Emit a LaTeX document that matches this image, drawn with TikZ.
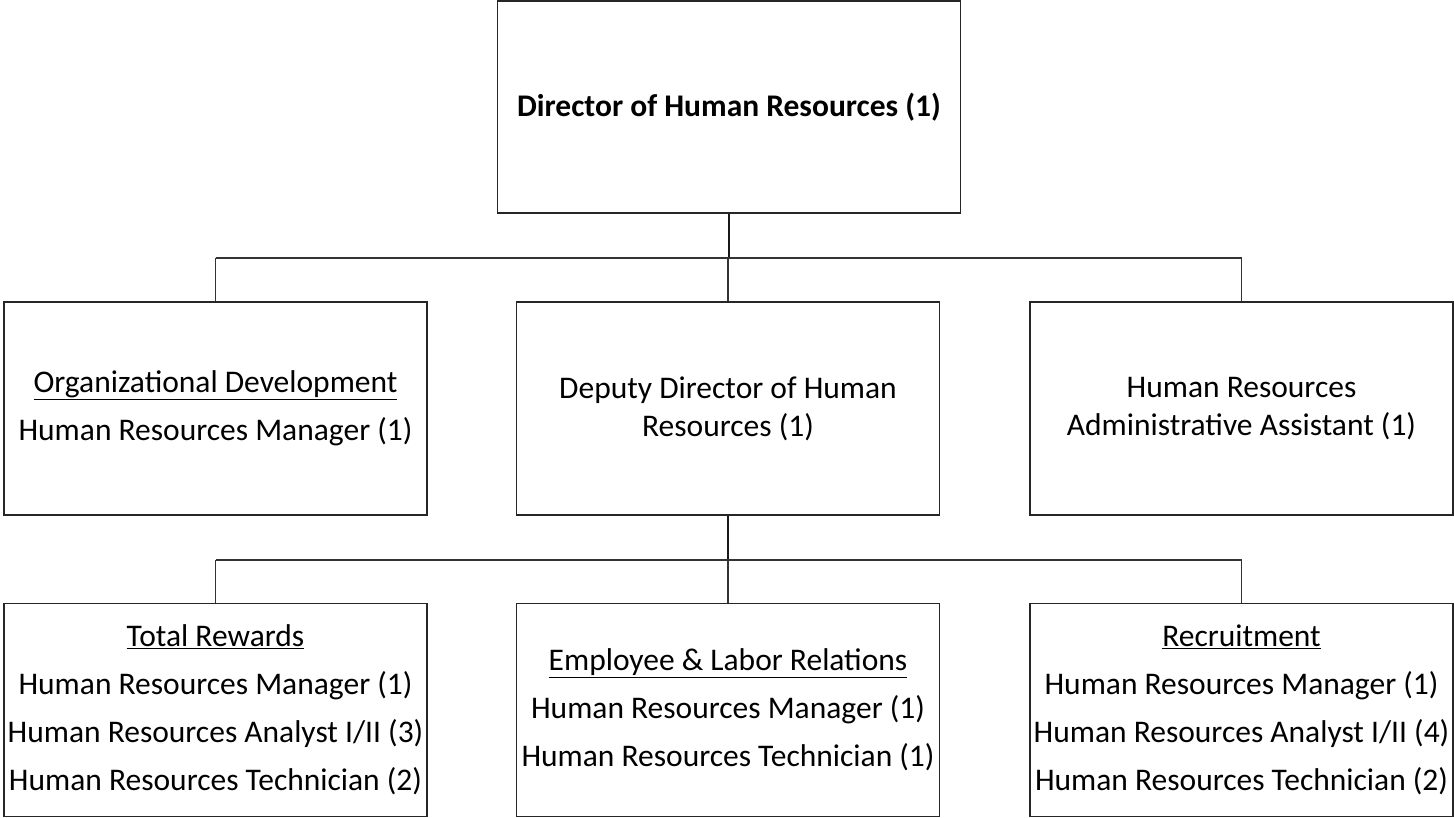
\documentclass[tikz,border=0pt]{standalone}
\usepackage{fontspec}
\setmainfont{Carlito}
\begin{document}
\begin{tikzpicture}[x=1pt,y=-1pt,
  box/.style={draw=black!85, line width=1.4pt, minimum width=423pt, minimum height=213pt, inner sep=0pt, align=center, font=\fontsize{31.5}{38}\selectfont},
  conn/.style={draw=black!80, line width=1.2pt},
  trunk/.style={draw=black!90, line width=2.2pt}]
\useasboundingbox (0,0) rectangle (1454,818);
\node[box, minimum width=463pt, minimum height=212pt] (top) at (729,107) {\textbf{Director of Human Resources (1)}};
\node[box] (od) at (215.5,408.5) {\underline{Organizational Development}\\[10pt]Human Resources Manager (1)};
\node[box] (dep) at (728,408.5) {Deputy Director of Human\\Resources (1)};
\node[box] (adm) at (1241.5,408.5) {Human Resources\\Administrative Assistant (1)};
\node[box] (tr) at (215.5,710) {\underline{Total Rewards}\\[10pt]Human Resources Manager (1)\\[10pt]Human Resources Analyst I/II (3)\\[10pt]Human Resources Technician (2)};
\node[box] (elr) at (728,710) {\underline{Employee \& Labor Relations}\\[10pt]Human Resources Manager (1)\\[10pt]Human Resources Technician (1)};
\node[box] (rec) at (1241.5,710) {\underline{Recruitment}\\[10pt]Human Resources Manager (1)\\[10pt]Human Resources Analyst I/II (4)\\[10pt]Human Resources Technician (2)};
% upper connectors
\coordinate (b1) at (728,258);
\draw[trunk] (top.south) -- (top.south |- b1);
\draw[conn] (b1 -| od.north) -- (b1 -| adm.north);
\draw[conn] (b1 -| od.north) -- (od.north);
\draw[conn] (b1) -- (dep.north);
\draw[conn] (b1 -| adm.north) -- (adm.north);
% lower connectors
\coordinate (b2) at (728,560);
\draw[trunk] (dep.south) -- (b2);
\draw[conn] (b2 -| tr.north) -- (b2 -| rec.north);
\draw[conn] (b2 -| tr.north) -- (tr.north);
\draw[conn] (b2) -- (elr.north);
\draw[conn] (b2 -| rec.north) -- (rec.north);
\end{tikzpicture}
\end{document}
